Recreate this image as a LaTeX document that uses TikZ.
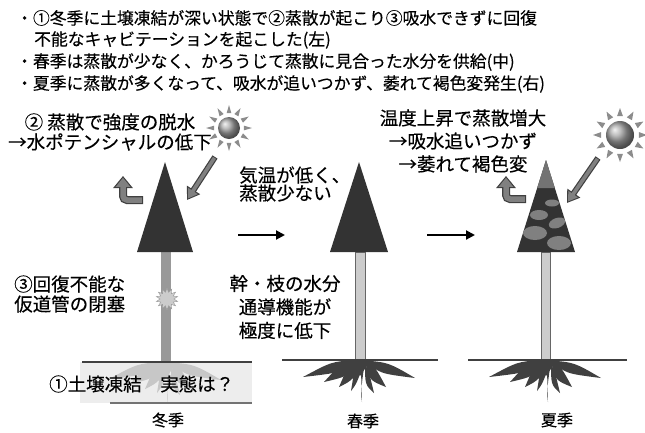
\documentclass[tikz,border=0pt]{standalone}
\usepackage{fontspec}
\setmainfont{Noto Sans CJK JP}[FakeBold=0.3]
\usetikzlibrary{arrows.meta,shapes.geometric}

% root fan below a trunk foot: colour, foot point
\def\rootfan[#1](#2){%
	\begin{scope}[shift={(#2)}]
		\fill[#1] (-11,0) -- (11,0) -- (0,16) -- cycle;
		\foreach \tx/\ty in {-57/17,-36/22,-21/27,-9/31,2/42,14/33,26/27,55/18}
			\fill[#1] (-5,0) .. controls ({0.5*(\tx)},{0.1*(\ty)}) .. (\tx,\ty) .. controls ({0.35*(\tx)},{0.75*(\ty)}) .. (5,0) -- cycle;
	\end{scope}}
% small rays round a sun: centre, ray radius
\def\sunrays(#1)[#2]{%
	\begin{scope}[shift={(#1)}]
		\foreach \a in {0,30,...,330}
			\fill[black!45] ({\a-9}:{#2-4}) -- ({\a+9}:{#2-4}) -- (\a:{#2+4}) -- cycle;
	\end{scope}}

\begin{document}
\begin{tikzpicture}[x=1pt,y=-1pt,
	heading/.style={anchor=west, inner sep=0, font=\fontsize{16.8}{20}\selectfont},
	note/.style={inner sep=0, font=\fontsize{18.5}{20}\selectfont},
	season/.style={inner sep=0, font=\fontsize{16}{18}\selectfont},
	ground/.style={line width=2pt, black!75},
	sunball/.style={circle, shade, ball color=black!35, inner sep=0},
	sunray/.style={draw=black!50, line width=3.6pt, shorten >=1.8pt, shorten <=1pt, -{Triangle[length=9pt,width=11pt]},
		preaction={draw=black!75, line width=6pt, shorten >=0pt, shorten <=0pt, -{Triangle[length=12pt,width=15pt]}}},
	vapour/.style={draw=black!50, line width=5.5pt, rounded corners=4pt, shorten >=1.8pt, shorten <=1.2pt, -{Triangle[length=9pt,width=14pt]},
		preaction={draw=black!75, line width=8pt, shorten >=0pt, shorten <=0pt, -{Triangle[length=12pt,width=19pt]}}},
	seasonstep/.style={line width=2pt, -{Triangle[length=9pt,width=9pt]}}]
	\useasboundingbox (0,0) rectangle (645,432);

	%%%%% headline %%%%%
	\node[heading] (line1) at (16,18) {・①冬季に土壌凍結が深い状態で②蒸散が起こり③吸水できずに回復};
	\node[heading] (line2) at (34,40) {不能なキャビテーションを起こした(左)};
	\node[heading] (line3) at (16,62) {・春季は蒸散が少なく、かろうじて蒸散に見合った水分を供給(中)};
	\node[heading] (line4) at (16,84) {・夏季に蒸散が多くなって、吸水が追いつかず、萎れて褐色変発生(右)};

	%%%%% winter %%%%%
	\fill[black!7] (80,362) rectangle (252,403);
	\rootfan[black!22](166,362)
	\fill[black!40] (161,252) rectangle (171,362);
	\fill[black!80] (165,162) -- (137,252) -- (193,252) -- cycle;
	\draw[ground] (82,362) -- (252,362);
	\draw[line width=2.5pt, black!55] (110,403) -- (252,403);
	\node[star, star points=14, star point ratio=1.6, minimum size=22, fill=black!20, draw=black!40] (block) at (167,299) {};

	\sunrays(229,128)[19]
	\node[sunball, minimum size=22] (sunW) at (229,128) {};
	\coordinate (rayW) at (215,157);
	\coordinate (hitW) at (187,200);
	\draw[sunray] (rayW) -- (hitW);
	\coordinate (outW) at (143,200);
	\coordinate (upW) at (123,176);
	\draw[vapour] (outW) -| (upW);

	%%%%% spring %%%%%
	\rootfan[black!75](360,360)
	\draw[black!60, fill=black!20] (355,252) rectangle (365,360);
	\fill[black!80] (359,162) -- (330,252) -- (388,252) -- cycle;
	\draw[ground] (282,360) -- (438,360);

	%%%%% summer %%%%%
	\rootfan[black!75](546,360)
	\draw[black!60, fill=black!20] (541.5,252) rectangle (550.5,360);
	\fill[black!80] (546,160) -- (517,252) -- (575,252) -- cycle;
	\fill[black!55] (546,160) -- (537.2,188) -- (554.8,188) -- cycle;
	\begin{scope}
		\clip (546,160) -- (517,252) -- (575,252) -- cycle;
		\fill[black!50] (552,203) ellipse (7 and 3.5);
		\fill[black!50] (539,215) ellipse (9 and 5);
		\fill[black!50, rotate around={20:(557,223)}] (557,223) ellipse (8.5 and 5);
		\fill[black!50] (535,233) ellipse (12 and 7);
		\fill[black!50] (559,243) ellipse (12 and 7);
	\end{scope}
	\draw[ground] (468,360) -- (627,360);

	\sunrays(620,135)[23]
	\node[sunball, minimum size=28] (sunE) at (620,135) {};
	\coordinate (rayE) at (598,158);
	\coordinate (hitE) at (567,203);
	\draw[sunray] (rayE) -- (hitE);
	\coordinate (outE) at (526,199);
	\coordinate (upE) at (506,176);
	\draw[vapour] (outE) -| (upE);

	%%%%% season steps %%%%%
	\coordinate (stepA) at (238,235);
	\coordinate (stepB) at (285,235);
	\draw[seasonstep] (stepA) -- (stepB);
	\coordinate (stepC) at (427,235);
	\coordinate (stepD) at (475,235);
	\draw[seasonstep] (stepC) -- (stepD);

	%%%%% labels %%%%%
	\node[note, align=center] (dry) at (110,132) {② 蒸散で強度の脱水\\→水ポテンシャルの低下};
	\node[note, align=left, anchor=west] (cavit) at (14,294) {③回復不能な\\仮道管の閉塞};
	\node[note, anchor=west] (frost) at (49,384) {①土壌凍結　実態は？};
	\node[note, align=left, anchor=west] (cool) at (239,184) {気温が低く、\\[-2pt]蒸散少ない};
	\node[note, align=center] (xylem) at (285,307) {幹・枝の水分\\[3.5pt]通導機能が\\[3.5pt]極度に低下};
	\node[note, align=center] (heat) at (463,141) {温度上昇で蒸散増大\\[3pt]→吸水追いつかず\\[3pt]→萎れて褐色変};

	\node[season] (winter) at (168,420) {冬季};
	\node[season] (spring) at (363,421) {春季};
	\node[season] (summer) at (557,420) {夏季};
\end{tikzpicture}
\end{document}
